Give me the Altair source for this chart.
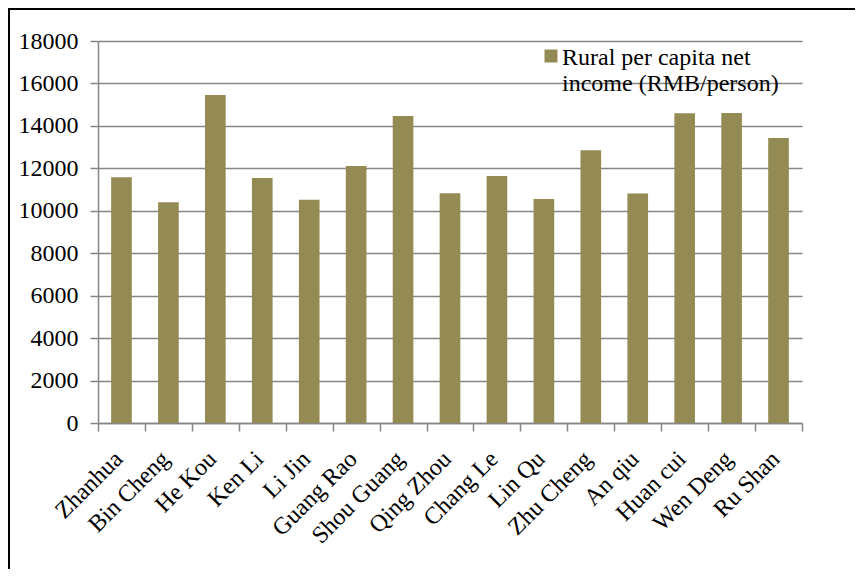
import altair as alt
import pandas as pd

cities = ["Zhanhua", "Bin Cheng", "He Kou", "Ken Li", "Li Jin", "Guang Rao",
          "Shou Guang", "Qing Zhou", "Chang Le", "Lin Qu", "Zhu Cheng",
          "An qiu", "Huan cui", "Wen Deng", "Ru Shan"]
income = [11580, 10400, 15450, 11550, 10520, 12110, 14470, 10830, 11640,
          10560, 12850, 10820, 14590, 14610, 13430]
y_ticks = [0, 2000, 4000, 6000, 8000, 10000, 12000, 14000, 16000, 18000]
legend_lines = ["Rural per capita net", "income (RMB/person)"]

bar_color = "#948A54"
axis_gray = "#868686"
FONT = "Liberation Serif"
W, H = 704, 382

df = pd.DataFrame({"city": cities, "income": income})

bars = alt.Chart(df).mark_bar(color=bar_color, width=alt.RelativeBandSize(0.44)).encode(
    x=alt.X("city:N", sort=cities,
            scale=alt.Scale(paddingInner=0, paddingOuter=0),
            axis=alt.Axis(title=None, labelAngle=-45, labelAlign="right",
                          labelBaseline="middle", labelPadding=24, labelOffset=-3,
                          labelFontSize=24, labelFont=FONT, labelColor="black",
                          tickBand="extent", tickSize=8, tickColor=axis_gray,
                          tickWidth=1.5, domainColor=axis_gray, domainWidth=1.5,
                          grid=False, labelOverlap=False)),
    y=alt.Y("income:Q", scale=alt.Scale(domain=[0, 18000], nice=False),
            axis=alt.Axis(title=None, values=y_ticks, format="d",
                          labelFontSize=24, labelFont=FONT, labelColor="black",
                          labelPadding=12,
                          tickSize=8, tickColor=axis_gray, tickWidth=1.5,
                          domainColor=axis_gray, domainWidth=1.5,
                          grid=True, gridColor=axis_gray, gridWidth=1.5)),
)

frame = alt.Chart(pd.DataFrame({"k": [0]})).mark_rect(
    fillOpacity=0, stroke="black", strokeWidth=2).encode(
    x=alt.value(-89), x2=alt.value(W + 300),
    y=alt.value(-32), y2=alt.value(H + 400))

legend_sq = alt.Chart(pd.DataFrame({"k": [0]})).mark_square(
    size=169, color=bar_color, opacity=1).encode(
    x=alt.value(453), y=alt.value(15))

legend_txt = alt.Chart(pd.DataFrame({"t": ["\n".join(legend_lines)]})).mark_text(
    align="left", baseline="alphabetic", font=FONT, fontSize=24,
    lineBreak="\n", lineHeight=26, color="black").encode(
    x=alt.value(464), y=alt.value(23.5), text="t:N")

chart = alt.layer(bars, frame, legend_sq, legend_txt).properties(
    width=W, height=H,
    autosize=alt.AutoSizeParams(type="none"),
    padding={"left": 90, "top": 33, "right": 53, "bottom": 146},
    background="white",
).configure(font=FONT).configure_view(strokeWidth=0)

chart.save("out.html", embed_options={"renderer": "svg", "actions": False})
